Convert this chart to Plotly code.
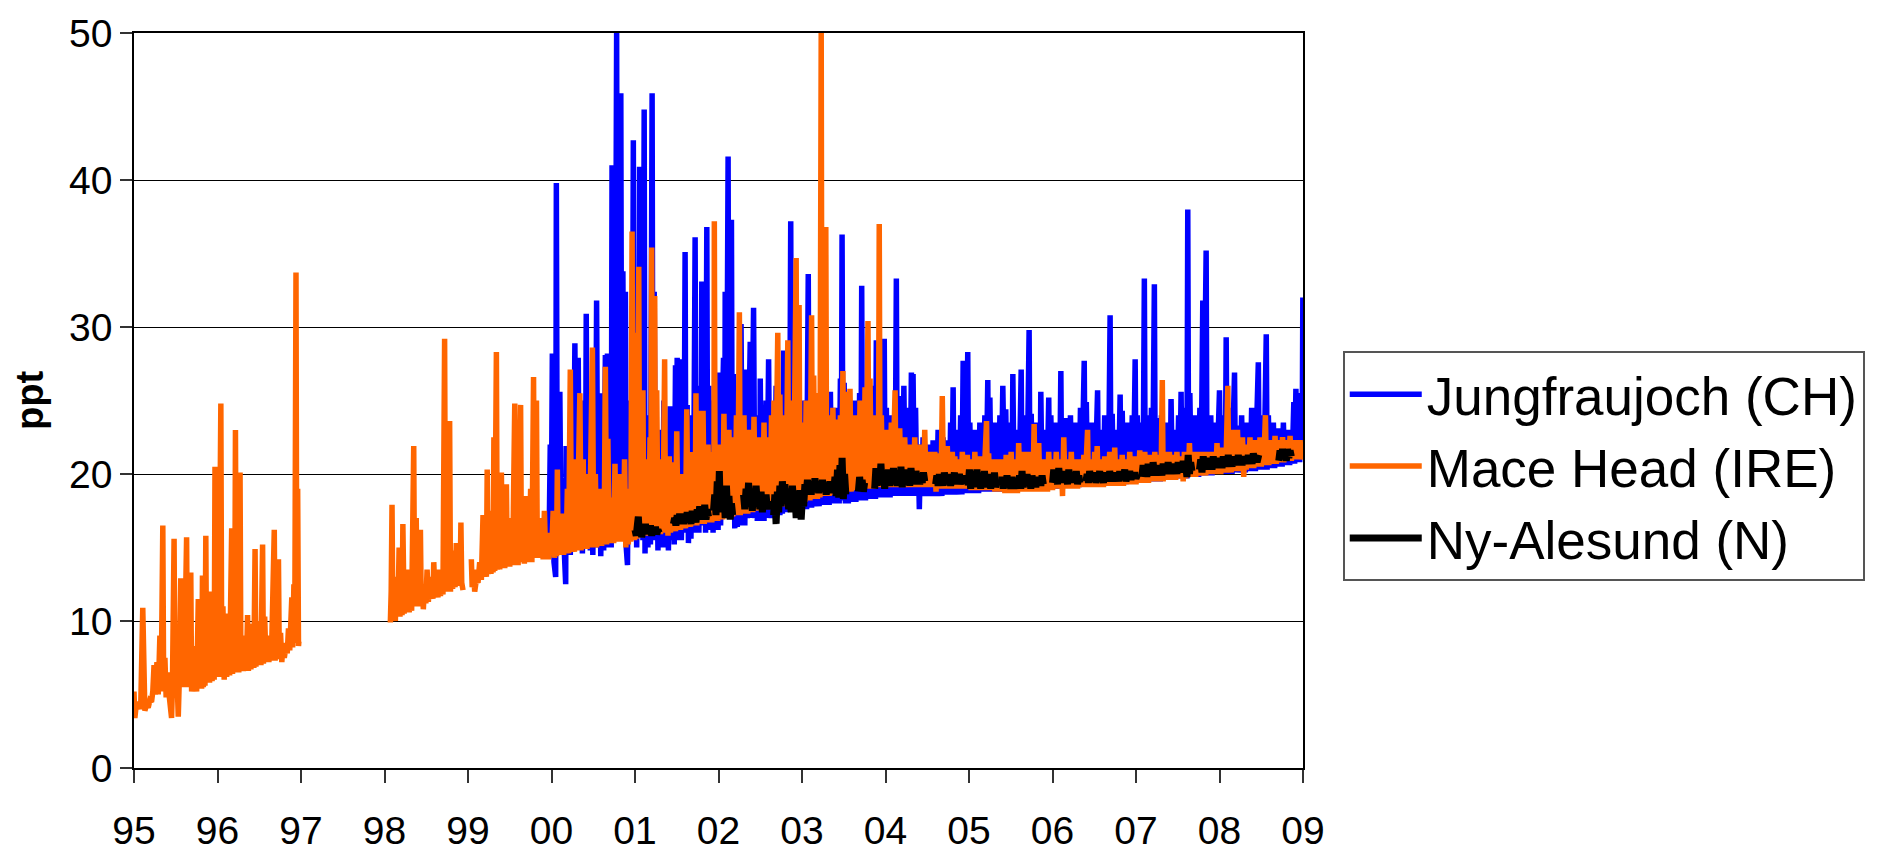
import plotly.graph_objects as go

# ---- data (year-1900, ppt); None = data gap ----
jfj = [
 (99.97, 15.0), (99.985, 22.0), (99.995, 14.5), (100.01, 28.2), (100.03, 14.0), (100.05, 13.0), (100.058, 39.8), (100.07, 15.0),
 (100.09, 18.0), (100.10, 25.6), (100.115, 14.8), (100.14, 19.0), (100.155, 14.5), (100.17, 12.5), (100.175, 21.9), (100.19, 15.0),
 (100.21, 20.5), (100.225, 14.5), (100.245, 23.0), (100.26, 15.0), (100.28, 28.9), (100.295, 15.2), (100.32, 27.9), (100.335, 15.0),
 (100.355, 22.5), (100.37, 14.6), (100.39, 25.0), (100.405, 15.0), (100.416, 30.9), (100.43, 15.2), (100.45, 24.0), (100.465, 14.8),
 (100.48, 20.0), (100.495, 14.5), (100.51, 22.0), (100.525, 15.0), (100.54, 31.8), (100.555, 15.0), (100.575, 25.5), (100.59, 14.4),
 (100.61, 22.0), (100.625, 14.8), (100.645, 28.1), (100.655, 15.0), (100.67, 28.2), (100.685, 15.5), (100.70, 24.0), (100.715, 15.0),
 (100.725, 41.0), (100.735, 18.0), (100.745, 30.0), (100.76, 16.0), (100.78, 50.0), (100.79, 20.0), (100.80, 35.0), (100.815, 17.0),
 (100.83, 45.9), (100.84, 20.0), (100.855, 33.8), (100.87, 16.0), (100.885, 32.4), (100.895, 15.0), (100.91, 13.8), (100.92, 22.0),
 (100.935, 15.5), (100.95, 25.0), (100.965, 15.5), (100.98, 42.7), (100.99, 17.0), (101.005, 28.0), (101.02, 15.0), (101.035, 24.0),
 (101.045, 16.0), (101.055, 40.9), (101.065, 17.0), (101.08, 26.0), (101.095, 15.5), (101.11, 44.8), (101.12, 14.6), (101.14, 24.0),
 (101.155, 15.0), (101.17, 22.0), (101.185, 15.2), (101.205, 45.9), (101.215, 17.0), (101.23, 32.4), (101.245, 15.5), (101.26, 21.0),
 (101.275, 14.8), (101.29, 23.0), (101.305, 15.0), (101.32, 20.0), (101.335, 15.2), (101.345, 25.0), (101.36, 15.0), (101.38, 21.5),
 (101.40, 14.8), (101.42, 24.6), (101.435, 15.5), (101.455, 20.0), (101.47, 15.2), (101.485, 27.4), (101.495, 16.0), (101.505, 27.9),
 (101.52, 15.5), (101.54, 27.8), (101.555, 15.5), (101.575, 22.0), (101.585, 16.0), (101.60, 35.1), (101.61, 16.0), (101.625, 24.7),
 (101.64, 15.3), (101.655, 21.0), (101.67, 15.6), (101.685, 24.0), (101.70, 16.0), (101.72, 36.1), (101.73, 17.0), (101.75, 26.0),
 (101.765, 16.0), (101.78, 24.0), (101.79, 16.5), (101.80, 33.1), (101.81, 17.0), (101.83, 25.0), (101.845, 16.0), (101.86, 36.8),
 (101.87, 17.5), (101.885, 26.0), (101.90, 16.2), (101.92, 23.0), (101.935, 16.0), (101.95, 25.0), (101.965, 16.2), (101.98, 22.0),
 (101.995, 16.2), (102.01, 26.9), (102.025, 16.5), (102.045, 24.0), (102.06, 27.9), (102.075, 17.0), (102.08, 32.4), (102.095, 17.5),
 (102.115, 41.6), (102.125, 18.0), (102.155, 37.3), (102.165, 17.0), (102.18, 26.8), (102.195, 16.3), (102.21, 22.0), (102.225, 16.4),
 (102.24, 25.0), (102.255, 16.5), (102.27, 30.2), (102.285, 16.6), (102.30, 23.0), (102.315, 16.5), (102.335, 27.1), (102.345, 17.0),
 (102.38, 29.0), (102.39, 17.0), (102.42, 31.3), (102.435, 17.0), (102.45, 24.0), (102.465, 16.8), (102.48, 22.0), (102.495, 16.8),
 (102.50, 26.5), (102.515, 17.0), (102.53, 23.0), (102.545, 16.8), (102.57, 25.0), (102.58, 17.0), (102.60, 27.8), (102.615, 17.0),
 (102.63, 24.0), (102.645, 17.0), (102.66, 22.0), (102.675, 17.0), (102.69, 26.0), (102.705, 17.2), (102.72, 23.5), (102.735, 17.2),
 (102.75, 25.0), (102.765, 17.3), (102.78, 28.4), (102.79, 17.5), (102.80, 24.0), (102.815, 17.4), (102.835, 26.0), (102.85, 17.5),
 (102.865, 37.2), (102.875, 18.0), (102.89, 25.0), (102.905, 17.5), (102.92, 23.0), (102.935, 17.5), (102.95, 26.0), (102.965, 17.5),
 (102.98, 24.5), (102.995, 17.5), (103.01, 25.0), (103.025, 17.6), (103.04, 22.5), (103.055, 17.6), (103.075, 33.6), (103.085, 18.0),
 (103.10, 25.8), (103.115, 17.7), (103.13, 23.0), (103.145, 17.8), (103.16, 24.5), (103.175, 17.8), (103.19, 22.0), (103.205, 17.8),
 (103.22, 25.0), (103.235, 17.9), (103.25, 23.5), (103.265, 17.9), (103.28, 26.5), (103.295, 17.9), (103.31, 24.0), (103.325, 17.9),
 (103.34, 25.6), (103.355, 18.0), (103.37, 22.5), (103.385, 18.0), (103.40, 24.5), (103.415, 18.0), (103.43, 23.0), (103.445, 18.0),
 (103.46, 26.5), (103.47, 18.2), (103.48, 36.3), (103.49, 18.5), (103.505, 26.2), (103.52, 18.0), (103.54, 23.0), (103.555, 18.0),
 (103.57, 24.5), (103.585, 18.1), (103.60, 22.5), (103.615, 18.1), (103.63, 25.0), (103.645, 18.1), (103.66, 23.5), (103.675, 18.2),
 (103.69, 25.5), (103.705, 18.2), (103.715, 32.8), (103.725, 18.5), (103.745, 24.0), (103.76, 18.2), (103.775, 22.5), (103.79, 18.3),
 (103.81, 25.0), (103.825, 18.3), (103.84, 23.0), (103.855, 18.3), (103.87, 26.0), (103.88, 18.3), (103.89, 29.1), (103.905, 18.4),
 (103.92, 24.0), (103.935, 18.4), (103.95, 25.5), (103.965, 18.4), (103.985, 29.2), (103.995, 18.4), (104.01, 24.5), (104.025, 18.4),
 (104.04, 23.0), (104.055, 18.4), (104.07, 24.0), (104.085, 18.5), (104.10, 22.5), (104.115, 18.5), (104.13, 33.3), (104.14, 18.6),
 (104.16, 25.3), (104.175, 18.5), (104.19, 23.0), (104.205, 18.5), (104.22, 26.0), (104.235, 18.5), (104.25, 23.5), (104.265, 18.5),
 (104.28, 24.5), (104.295, 18.5), (104.31, 26.9), (104.32, 18.6), (104.33, 26.8), (104.345, 18.5), (104.36, 24.5), (104.375, 18.5),
 (104.39, 22.0), (104.405, 17.6), (104.42, 21.5), (104.435, 18.5), (104.45, 22.5), (104.465, 18.5), (104.48, 21.5), (104.495, 18.5),
 (104.51, 22.0), (104.525, 18.5), (104.54, 21.0), (104.555, 18.5), (104.57, 22.3), (104.585, 18.5), (104.60, 21.5), (104.615, 18.5),
 (104.63, 23.0), (104.645, 18.5), (104.66, 21.5), (104.675, 18.5), (104.69, 22.5), (104.705, 18.6), (104.72, 21.5), (104.735, 18.6),
 (104.75, 22.3), (104.765, 18.6), (104.78, 23.5), (104.795, 18.6), (104.81, 25.9), (104.82, 18.7), (104.84, 23.0), (104.855, 18.6),
 (104.87, 22.0), (104.885, 18.6), (104.90, 24.0), (104.915, 18.6), (104.93, 27.7), (104.94, 18.8), (104.955, 23.5), (104.965, 18.7),
 (104.985, 28.3), (104.995, 18.7), (105.01, 23.5), (105.025, 18.7), (105.04, 21.9), (105.055, 18.7), (105.07, 23.0), (105.085, 18.7),
 (105.10, 22.0), (105.115, 18.7), (105.13, 23.5), (105.145, 18.8), (105.16, 22.0), (105.175, 18.8), (105.19, 24.0), (105.205, 18.8),
 (105.225, 26.4), (105.235, 18.8), (105.25, 25.2), (105.265, 18.8), (105.28, 22.5), (105.295, 18.8), (105.31, 23.5), (105.325, 18.8),
 (105.34, 22.0), (105.355, 18.8), (105.37, 24.0), (105.385, 18.8), (105.405, 26.0), (105.425, 18.8), (105.44, 24.4), (105.455, 18.8),
 (105.47, 22.5), (105.485, 18.9), (105.50, 23.5), (105.515, 18.9), (105.525, 26.8), (105.54, 18.9), (105.555, 23.0), (105.57, 18.9),
 (105.585, 22.0), (105.60, 18.9), (105.625, 27.1), (105.635, 18.9), (105.65, 24.0), (105.665, 18.9), (105.68, 22.5), (105.695, 19.0),
 (105.72, 29.8), (105.73, 19.0), (105.745, 24.1), (105.76, 19.0), (105.775, 22.5), (105.79, 19.0), (105.805, 23.5), (105.82, 19.0),
 (105.835, 22.0), (105.85, 19.0), (105.86, 25.6), (105.875, 19.0), (105.89, 23.0), (105.905, 19.0), (105.92, 22.0), (105.935, 19.0),
 (105.955, 25.2), (105.965, 19.0), (105.98, 24.0), (105.995, 19.0), (106.01, 22.5), (106.025, 19.0), (106.04, 23.5), (106.055, 19.0),
 (106.07, 22.0), (106.085, 19.1), (106.10, 27.0), (106.11, 19.1), (106.125, 23.0), (106.14, 19.1), (106.155, 23.8), (106.17, 19.1),
 (106.185, 22.6), (106.20, 19.1), (106.215, 24.0), (106.23, 19.1), (106.245, 22.5), (106.26, 19.1), (106.275, 23.5), (106.29, 19.1),
 (106.305, 22.0), (106.32, 19.1), (106.335, 24.5), (106.35, 19.2), (106.365, 23.0), (106.38, 27.7), (106.39, 19.2), (106.405, 24.9),
 (106.42, 19.2), (106.435, 22.5), (106.45, 19.2), (106.465, 23.5), (106.48, 19.2), (106.495, 22.0), (106.51, 19.2), (106.525, 24.0),
 (106.54, 25.7), (106.55, 19.2), (106.565, 23.0), (106.58, 19.2), (106.595, 22.5), (106.61, 19.2), (106.625, 24.0), (106.64, 19.2),
 (106.655, 22.5), (106.67, 19.3), (106.69, 30.8), (106.70, 19.3), (106.715, 24.1), (106.73, 19.3), (106.745, 23.0), (106.76, 19.3),
 (106.775, 22.5), (106.79, 19.3), (106.81, 25.4), (106.82, 19.3), (106.835, 24.3), (106.85, 19.3), (106.865, 22.5), (106.88, 19.3),
 (106.895, 23.5), (106.91, 19.4), (106.925, 22.0), (106.94, 19.4), (106.955, 24.0), (106.97, 19.4), (106.99, 27.8), (107.0, 19.4),
 (107.015, 24.0), (107.03, 19.4), (107.045, 22.5), (107.06, 19.4), (107.075, 23.5), (107.085, 19.4), (107.10, 33.3), (107.11, 19.5),
 (107.125, 24.0), (107.14, 19.5), (107.155, 22.5), (107.17, 19.5), (107.185, 24.5), (107.20, 19.5), (107.215, 28.6), (107.22, 32.9),
 (107.23, 19.5), (107.245, 23.8), (107.26, 19.5), (107.275, 22.5), (107.29, 19.5), (107.305, 24.0), (107.32, 19.6), (107.335, 22.5),
 (107.35, 19.6), (107.365, 23.5), (107.38, 19.6), (107.395, 22.0), (107.41, 19.6), (107.42, 25.1), (107.435, 19.6), (107.45, 23.0),
 (107.465, 19.6), (107.48, 22.5), (107.495, 19.7), (107.51, 24.0), (107.525, 19.7), (107.54, 25.6), (107.55, 19.7), (107.565, 23.0),
 (107.58, 19.7), (107.595, 24.5), (107.61, 19.7), (107.62, 38.0), (107.63, 19.8), (107.645, 25.5), (107.66, 19.8), (107.675, 23.0),
 (107.69, 19.8), (107.705, 24.0), (107.72, 19.8), (107.735, 22.5), (107.75, 19.8), (107.765, 24.5), (107.78, 19.9), (107.80, 31.8),
 (107.81, 19.9), (107.825, 26.0), (107.84, 35.2), (107.85, 19.9), (107.865, 23.2), (107.88, 19.9), (107.895, 24.0), (107.91, 19.9),
 (107.925, 22.5), (107.94, 20.0), (107.955, 23.5), (107.97, 20.0), (107.985, 22.0), (108.0, 25.7), (108.01, 20.0), (108.025, 23.0),
 (108.04, 20.0), (108.055, 24.0), (108.07, 20.0), (108.08, 29.3), (108.09, 20.0), (108.105, 23.5), (108.12, 20.0), (108.135, 24.5),
 (108.15, 20.0), (108.165, 23.0), (108.18, 26.9), (108.19, 20.1), (108.205, 23.3), (108.22, 20.1), (108.235, 22.5), (108.25, 20.1),
 (108.265, 24.0), (108.28, 20.1), (108.295, 22.5), (108.31, 20.1), (108.325, 23.5), (108.34, 20.2), (108.355, 22.0), (108.37, 20.2),
 (108.385, 24.5), (108.40, 20.2), (108.415, 22.5), (108.43, 20.2), (108.445, 24.0), (108.465, 27.6), (108.475, 20.3), (108.49, 23.5),
 (108.505, 20.3), (108.52, 24.0), (108.535, 20.3), (108.56, 29.5), (108.57, 20.3), (108.585, 24.0), (108.60, 20.4), (108.615, 22.5),
 (108.63, 20.4), (108.645, 23.5), (108.66, 20.4), (108.675, 22.0), (108.69, 20.5), (108.705, 23.1), (108.72, 20.5), (108.735, 22.5),
 (108.75, 20.5), (108.765, 23.5), (108.78, 20.6), (108.795, 22.5), (108.81, 20.6), (108.825, 23.0), (108.84, 20.6), (108.855, 22.0),
 (108.87, 20.7), (108.89, 24.9), (108.90, 20.7), (108.915, 25.8), (108.93, 20.8), (108.945, 23.0), (108.96, 20.8), (108.975, 25.5),
 (108.99, 21.5), (108.998, 32.0), (109.0, 22.0),
]

mace = [
 (95.0, 5.2), (95.01, 3.4), (95.025, 4.2), (95.04, 4.0), (95.06, 4.5), (95.08, 4.0), (95.105, 10.9), (95.115, 4.2), (95.13, 3.9),
 (95.15, 4.3), (95.17, 4.1), (95.19, 4.6), (95.21, 4.5), (95.225, 5.2), (95.24, 7.0), (95.255, 5.0), (95.275, 7.2), (95.29, 5.0),
 (95.31, 9.0), (95.325, 5.2), (95.345, 16.5), (95.355, 5.5), (95.37, 7.5), (95.385, 4.8), (95.40, 6.5), (95.42, 5.0), (95.45, 3.4),
 (95.46, 5.5), (95.48, 15.6), (95.49, 5.0), (95.505, 8.0), (95.53, 3.5), (95.54, 5.5), (95.56, 12.9), (95.57, 5.5), (95.585, 9.0),
 (95.60, 5.5), (95.63, 15.7), (95.64, 5.5), (95.68, 13.3), (95.69, 5.2), (95.705, 7.0), (95.72, 5.2), (95.735, 8.3), (95.75, 5.2),
 (95.77, 11.5), (95.78, 5.5), (95.80, 8.0), (95.81, 5.4), (95.82, 13.1), (95.83, 5.5), (95.845, 7.0), (95.85, 5.6), (95.86, 15.8),
 (95.87, 5.8), (95.89, 8.5), (95.905, 5.8), (95.92, 12.0), (95.935, 5.9), (95.95, 9.0), (95.96, 6.0), (95.97, 20.5), (95.98, 6.2),
 (96.00, 10.0), (96.015, 6.2), (96.04, 24.8), (96.05, 8.0), (96.065, 11.0), (96.08, 6.0), (96.095, 10.5), (96.11, 6.2), (96.13, 9.5),
 (96.145, 6.3), (96.17, 16.3), (96.18, 6.4), (96.195, 11.5), (96.205, 6.5), (96.215, 23.0), (96.225, 7.0), (96.245, 12.0),
 (96.255, 6.5), (96.27, 20.1), (96.28, 6.8), (96.295, 9.0), (96.31, 6.6), (96.33, 8.5), (96.345, 6.6), (96.36, 10.4), (96.37, 6.6),
 (96.385, 8.8), (96.40, 6.7), (96.42, 9.8), (96.435, 6.8), (96.45, 14.9), (96.46, 6.9), (96.475, 8.5), (96.49, 7.0), (96.505, 10.0),
 (96.52, 7.0), (96.54, 15.2), (96.55, 7.1), (96.565, 10.3), (96.58, 7.2), (96.60, 9.0), (96.615, 7.2), (96.63, 8.7), (96.645, 7.3),
 (96.68, 16.2), (96.69, 7.3), (96.73, 14.2), (96.74, 7.4), (96.755, 9.2), (96.77, 7.2), (96.785, 8.5), (96.80, 7.5), (96.82, 8.3),
 (96.835, 7.8), (96.85, 9.5), (96.865, 8.0), (96.89, 11.6), (96.90, 8.2), (96.915, 12.5), (96.925, 8.5), (96.94, 33.7),
 (96.95, 9.0), (96.96, 19.0), (96.97, 8.3), (96.975, 8.6),
 (97.5, None),
 (98.07, 9.9), (98.08, 12.0), (98.09, 17.9), (98.10, 10.2), (98.115, 11.5), (98.13, 10.0), (98.145, 13.0), (98.16, 10.3),
 (98.175, 15.0), (98.185, 10.3), (98.20, 12.5), (98.21, 10.4), (98.22, 16.6), (98.235, 10.5), (98.25, 12.0), (98.265, 10.6),
 (98.28, 13.5), (98.295, 10.6), (98.31, 11.5), (98.325, 10.7), (98.35, 21.9), (98.36, 11.0), (98.38, 17.0), (98.39, 11.0),
 (98.43, 16.2), (98.44, 11.0), (98.455, 12.5), (98.465, 10.8), (98.48, 12.5), (98.495, 11.2), (98.51, 13.5), (98.525, 11.3),
 (98.54, 12.8), (98.555, 11.5), (98.57, 13.0), (98.58, 11.5), (98.59, 14.0), (98.605, 11.6), (98.625, 12.8), (98.64, 11.6),
 (98.655, 13.5), (98.67, 11.7), (98.685, 12.5), (98.70, 11.8), (98.72, 29.2), (98.73, 12.5), (98.755, 14.5), (98.765, 12.0),
 (98.78, 23.6), (98.79, 12.0), (98.80, 14.8), (98.815, 12.2), (98.83, 13.0), (98.845, 12.3), (98.86, 15.3), (98.875, 12.4),
 (98.89, 13.0), (98.905, 12.5), (98.915, 16.7), (98.925, 12.6), (98.94, 12.1),
 (99.0, None),
 (99.04, 14.2), (99.05, 12.3), (99.07, 13.5), (99.08, 12.0), (99.10, 12.8), (99.12, 12.6), (99.14, 14.0), (99.16, 12.8),
 (99.18, 17.2), (99.19, 13.0), (99.21, 15.5), (99.22, 13.0), (99.23, 20.3), (99.24, 13.2), (99.26, 15.0), (99.275, 13.2),
 (99.29, 17.5), (99.30, 13.3), (99.31, 22.5), (99.32, 13.4), (99.34, 28.3), (99.35, 13.5), (99.37, 16.0), (99.38, 13.5),
 (99.40, 20.1), (99.41, 13.6), (99.43, 16.5), (99.44, 13.6), (99.46, 19.3), (99.47, 13.7), (99.49, 15.0), (99.50, 13.7),
 (99.52, 17.0), (99.535, 13.8), (99.56, 24.8), (99.57, 14.0), (99.59, 18.0), (99.60, 13.8), (99.63, 24.7), (99.64, 14.0),
 (99.66, 16.5), (99.675, 13.9), (99.69, 18.5), (99.70, 14.0), (99.715, 16.8), (99.735, 14.0), (99.75, 19.0), (99.765, 14.0),
 (99.785, 26.6), (99.795, 14.3), (99.82, 25.0), (99.83, 14.3), (99.855, 17.0), (99.87, 14.3), (99.885, 16.0), (99.90, 14.2),
 (99.915, 17.5), (99.93, 14.3), (99.95, 16.0), (99.965, 14.2), (99.98, 15.5),
 (100.0, 14.5), (100.02, 17.5), (100.035, 14.3), (100.05, 16.0), (100.06, 14.4), (100.07, 20.3), (100.08, 14.5), (100.10, 17.0),
 (100.11, 14.5), (100.13, 17.3), (100.145, 14.5), (100.16, 16.5), (100.175, 14.6), (100.19, 19.0), (100.205, 14.6), (100.225, 27.1),
 (100.24, 14.7), (100.26, 18.5), (100.275, 14.7), (100.29, 21.0), (100.305, 14.8), (100.34, 25.5), (100.355, 14.8), (100.38, 21.0),
 (100.39, 14.9), (100.41, 18.0), (100.425, 14.9), (100.44, 20.0), (100.455, 15.0), (100.49, 28.6), (100.505, 15.0), (100.525, 20.0),
 (100.54, 15.0), (100.555, 18.5), (100.57, 15.1), (100.585, 19.0), (100.60, 15.1), (100.615, 18.0), (100.63, 15.2), (100.645, 27.3),
 (100.66, 15.2), (100.675, 22.4), (100.69, 15.3), (100.70, 18.4), (100.715, 15.3), (100.73, 18.1), (100.745, 15.3), (100.76, 20.7),
 (100.775, 15.4), (100.79, 19.0), (100.80, 15.4), (100.815, 20.0), (100.83, 15.4), (100.845, 18.0), (100.86, 15.5), (100.875, 21.0),
 (100.89, 15.0), (100.905, 17.5), (100.92, 15.2), (100.935, 19.0), (100.95, 15.4), (100.965, 36.5), (100.975, 15.6), (100.985, 29.6),
 (100.995, 15.5), (101.01, 20.0), (101.02, 15.6), (101.045, 34.1), (101.055, 15.7), (101.07, 22.5), (101.08, 15.7), (101.095, 25.7),
 (101.105, 15.8), (101.12, 19.0), (101.135, 15.8), (101.15, 21.0), (101.165, 15.8), (101.18, 22.5), (101.19, 15.9), (101.20, 35.4),
 (101.21, 16.0), (101.236, 32.1), (101.245, 16.0), (101.26, 25.7), (101.275, 15.9), (101.29, 19.5), (101.305, 15.9), (101.32, 21.0),
 (101.335, 16.0), (101.355, 27.8), (101.365, 16.0), (101.38, 19.5), (101.395, 15.8), (101.41, 21.2), (101.425, 16.0), (101.44, 20.8),
 (101.455, 16.1), (101.47, 19.0), (101.485, 16.1), (101.50, 22.9), (101.515, 16.2), (101.53, 18.5), (101.545, 16.2), (101.56, 20.0),
 (101.575, 16.3), (101.59, 19.3), (101.605, 16.3), (101.62, 24.4), (101.635, 16.4), (101.65, 20.0), (101.665, 16.4), (101.68, 21.5),
 (101.695, 16.5), (101.71, 19.5), (101.72, 16.5), (101.73, 25.5), (101.74, 16.5), (101.76, 24.3), (101.775, 16.6), (101.79, 21.0),
 (101.80, 16.6), (101.815, 24.3), (101.83, 16.6), (101.845, 20.5), (101.86, 16.7), (101.875, 22.0), (101.89, 16.7), (101.905, 20.0),
 (101.92, 16.7), (101.935, 21.5), (101.945, 16.8), (101.95, 37.2), (101.96, 16.8), (101.975, 22.0), (101.99, 16.8),
 (102.005, 20.5), (102.02, 16.9), (102.035, 22.0), (102.05, 16.9), (102.065, 24.1), (102.08, 17.0), (102.095, 21.0), (102.11, 17.0),
 (102.125, 23.0), (102.14, 17.1), (102.155, 20.0), (102.17, 17.1), (102.185, 22.5), (102.20, 17.2), (102.215, 24.0), (102.23, 17.2),
 (102.25, 31.0), (102.26, 17.2), (102.275, 22.0), (102.29, 17.3), (102.305, 24.0), (102.32, 17.3), (102.335, 21.5), (102.35, 17.3),
 (102.365, 23.0), (102.38, 17.4), (102.395, 21.0), (102.41, 17.4), (102.425, 23.9), (102.44, 17.5), (102.455, 21.5), (102.47, 17.5),
 (102.485, 22.5), (102.50, 17.5), (102.515, 20.5), (102.53, 17.6), (102.545, 23.5), (102.56, 17.6), (102.575, 21.5), (102.59, 17.6),
 (102.605, 22.5), (102.62, 17.7), (102.635, 24.0), (102.65, 17.7), (102.665, 25.0), (102.68, 17.7), (102.695, 23.0), (102.71, 29.6),
 (102.72, 17.8), (102.735, 25.4), (102.75, 17.8), (102.765, 22.0), (102.78, 17.8), (102.795, 24.0), (102.81, 17.9), (102.83, 29.1),
 (102.84, 17.9), (102.855, 23.0), (102.87, 17.9), (102.885, 25.0), (102.90, 18.0), (102.915, 27.0), (102.93, 34.7), (102.94, 18.0),
 (102.955, 31.4), (102.965, 31.5), (102.975, 18.0), (102.99, 22.8), (103.005, 18.1), (103.02, 23.5), (103.035, 18.1), (103.05, 25.0),
 (103.065, 18.2), (103.08, 24.0), (103.095, 18.2), (103.115, 30.8), (103.125, 18.3), (103.14, 26.7), (103.155, 18.3), (103.17, 23.0),
 (103.185, 18.3), (103.20, 25.5), (103.215, 18.4), (103.23, 50.0), (103.24, 18.5), (103.26, 26.0), (103.275, 18.5), (103.285, 36.8),
 (103.295, 18.5), (103.31, 24.0), (103.325, 18.5), (103.34, 22.5), (103.355, 18.6), (103.37, 24.5), (103.385, 18.6), (103.40, 23.7),
 (103.415, 18.6), (103.43, 22.5), (103.445, 18.7), (103.46, 24.0), (103.475, 18.7), (103.49, 27.0), (103.50, 18.7), (103.515, 25.6),
 (103.53, 18.8), (103.545, 23.2), (103.56, 18.8), (103.575, 25.8), (103.59, 18.8), (103.605, 22.5), (103.62, 18.9), (103.635, 24.0),
 (103.65, 18.9), (103.665, 22.0), (103.68, 18.9), (103.695, 25.0), (103.71, 19.0), (103.725, 23.0), (103.74, 19.0), (103.755, 25.9),
 (103.77, 19.0), (103.79, 30.4), (103.80, 19.0), (103.815, 26.5), (103.83, 19.0), (103.845, 22.5), (103.86, 19.0), (103.875, 24.0),
 (103.89, 19.1), (103.905, 22.3), (103.915, 19.1), (103.925, 37.0), (103.935, 19.1), (103.95, 24.0), (103.965, 19.1), (103.98, 22.5),
 (103.995, 19.1), (104.01, 23.0), (104.025, 19.1), (104.04, 22.0), (104.055, 19.1), (104.07, 23.5), (104.085, 19.1), (104.10, 22.0),
 (104.115, 25.7), (104.125, 19.1), (104.14, 22.5), (104.155, 19.1), (104.17, 23.1), (104.185, 19.1), (104.20, 21.5), (104.215, 19.1),
 (104.23, 22.5), (104.245, 19.1), (104.26, 21.0), (104.275, 19.1), (104.29, 22.0), (104.305, 19.1), (104.32, 21.5), (104.335, 19.1),
 (104.35, 22.5), (104.365, 19.1), (104.38, 21.0), (104.395, 19.1), (104.41, 22.0), (104.425, 19.1), (104.44, 21.5), (104.455, 19.1),
 (104.47, 23.0), (104.485, 19.1), (104.50, 21.0), (104.515, 19.1), (104.53, 21.5), (104.545, 19.1), (104.56, 21.0), (104.575, 19.1),
 (104.59, 21.5), (104.605, 18.8), (104.62, 21.4), (104.635, 19.0), (104.65, 20.8), (104.665, 19.0), (104.68, 25.3), (104.695, 19.0),
 (104.71, 21.0), (104.725, 19.0), (104.74, 21.9), (104.755, 19.0), (104.77, 20.8), (104.785, 19.0), (104.80, 21.5), (104.815, 19.0),
 (104.83, 21.2), (104.845, 19.0), (104.86, 20.8), (104.875, 19.0), (104.89, 21.0), (104.905, 19.0), (104.92, 21.5), (104.935, 19.0),
 (104.95, 20.8), (104.965, 19.0), (104.98, 21.3), (104.995, 19.0), (105.01, 21.0), (105.025, 18.9), (105.04, 20.8), (105.055, 18.9),
 (105.07, 21.5), (105.085, 18.9), (105.10, 20.5), (105.115, 18.9), (105.13, 21.2), (105.145, 18.9), (105.16, 20.8), (105.175, 18.9),
 (105.19, 21.0), (105.21, 23.6), (105.22, 18.9), (105.235, 21.4), (105.25, 18.9), (105.265, 21.0), (105.28, 18.9), (105.295, 20.5),
 (105.31, 18.8), (105.325, 21.0), (105.34, 18.8), (105.355, 20.5), (105.37, 18.8), (105.385, 21.0), (105.40, 18.8), (105.415, 20.5),
 (105.43, 18.7), (105.445, 21.3), (105.46, 18.7), (105.475, 20.8), (105.49, 18.7), (105.505, 21.5), (105.52, 18.7), (105.535, 20.8),
 (105.55, 18.7), (105.565, 21.0), (105.58, 18.7), (105.595, 22.1), (105.61, 18.8), (105.625, 20.8), (105.64, 18.8), (105.655, 21.5),
 (105.67, 18.8), (105.685, 21.0), (105.70, 18.8), (105.72, 21.5), (105.735, 18.8), (105.75, 21.0), (105.765, 18.8), (105.78, 23.4),
 (105.79, 18.8), (105.805, 21.5), (105.82, 18.8), (105.835, 22.1), (105.85, 18.8), (105.865, 20.8), (105.88, 18.8), (105.895, 21.0),
 (105.91, 18.8), (105.925, 20.5), (105.94, 18.8), (105.955, 21.5), (105.97, 18.9), (105.985, 21.0), (106.0, 18.9), (106.015, 20.8),
 (106.03, 19.0), (106.045, 21.5), (106.06, 19.0), (106.075, 20.8), (106.09, 19.0), (106.105, 21.0), (106.12, 18.5), (106.135, 22.5),
 (106.15, 19.0), (106.165, 21.0), (106.18, 19.0), (106.195, 20.8), (106.21, 19.0), (106.225, 21.5), (106.24, 19.0), (106.255, 21.0),
 (106.27, 19.0), (106.285, 20.5), (106.30, 19.0), (106.315, 21.0), (106.33, 19.1), (106.345, 20.8), (106.36, 19.1), (106.375, 21.3),
 (106.39, 19.1), (106.405, 21.0), (106.42, 23.0), (106.43, 19.1), (106.445, 21.0), (106.46, 19.1), (106.475, 20.8), (106.49, 19.1),
 (106.505, 21.5), (106.52, 19.1), (106.535, 21.9), (106.55, 19.1), (106.565, 21.0), (106.58, 19.1), (106.595, 20.8), (106.61, 19.1),
 (106.625, 21.2), (106.64, 19.2), (106.655, 21.0), (106.67, 19.2), (106.685, 21.5), (106.70, 19.2), (106.715, 20.8), (106.73, 19.2),
 (106.745, 21.8), (106.76, 19.2), (106.775, 21.0), (106.79, 19.2), (106.805, 20.8), (106.82, 19.2), (106.835, 21.3), (106.85, 19.2),
 (106.865, 21.0), (106.88, 19.3), (106.895, 20.8), (106.91, 19.3), (106.925, 21.5), (106.94, 19.3), (106.955, 21.0), (106.97, 19.3),
 (106.985, 21.2), (107.0, 19.3), (107.015, 21.0), (107.03, 19.4), (107.045, 21.6), (107.06, 19.4), (107.075, 20.8), (107.09, 19.4),
 (107.105, 21.5), (107.12, 19.4), (107.135, 21.0), (107.15, 19.4), (107.165, 21.3), (107.18, 19.5), (107.195, 21.0), (107.21, 19.5),
 (107.225, 21.5), (107.24, 19.5), (107.255, 21.0), (107.27, 19.5), (107.285, 21.3), (107.30, 19.5), (107.315, 26.4), (107.325, 19.5),
 (107.34, 21.5), (107.355, 19.6), (107.37, 21.0), (107.385, 19.6), (107.40, 21.5), (107.415, 19.6), (107.43, 21.0), (107.445, 19.6),
 (107.46, 21.3), (107.475, 19.6), (107.49, 21.5), (107.505, 19.7), (107.52, 21.0), (107.535, 19.7), (107.55, 21.2), (107.565, 19.5),
 (107.58, 21.5), (107.595, 19.7), (107.61, 21.0), (107.625, 19.8), (107.64, 22.1), (107.655, 19.8), (107.67, 21.5), (107.685, 19.8),
 (107.70, 21.2), (107.715, 19.8), (107.73, 21.5), (107.745, 19.9), (107.76, 21.0), (107.775, 19.9), (107.79, 21.5), (107.805, 19.9),
 (107.82, 21.2), (107.835, 19.9), (107.85, 21.5), (107.865, 20.0), (107.88, 21.2), (107.895, 20.0), (107.91, 21.5), (107.925, 20.0),
 (107.94, 21.3), (107.955, 20.0), (107.97, 22.1), (107.985, 20.0), (108.0, 21.5), (108.015, 20.0), (108.03, 21.8), (108.045, 20.1),
 (108.06, 21.5), (108.075, 20.1), (108.10, 26.0), (108.11, 20.1), (108.125, 22.0), (108.14, 20.1), (108.155, 23.0), (108.17, 20.2),
 (108.185, 21.5), (108.20, 20.2), (108.215, 23.0), (108.23, 20.2), (108.245, 22.0), (108.26, 20.3), (108.275, 22.5), (108.29, 19.8),
 (108.305, 22.0), (108.32, 20.3), (108.335, 21.8), (108.35, 20.4), (108.365, 22.5), (108.38, 20.4), (108.395, 22.0), (108.41, 20.4),
 (108.425, 22.3), (108.44, 20.5), (108.455, 22.0), (108.47, 20.5), (108.485, 22.5), (108.50, 20.5), (108.515, 22.0), (108.53, 20.6),
 (108.55, 24.0), (108.56, 20.6), (108.575, 22.3), (108.59, 20.6), (108.605, 22.0), (108.62, 20.7), (108.635, 22.3), (108.65, 20.7),
 (108.665, 22.6), (108.68, 20.7), (108.695, 22.0), (108.71, 20.8), (108.725, 22.3), (108.74, 20.8), (108.755, 22.5), (108.77, 20.8),
 (108.785, 22.0), (108.80, 20.9), (108.815, 22.3), (108.83, 20.9), (108.845, 22.6), (108.86, 20.9), (108.875, 22.0), (108.89, 21.0),
 (108.905, 22.3), (108.92, 21.0), (108.935, 22.0), (108.95, 21.0), (108.965, 22.3), (108.98, 21.0), (109.0, 21.5),
]

nyal = [
 (101.0, 16.2), (101.015, 15.8), (101.03, 16.6), (101.04, 17.1), (101.05, 16.0), (101.065, 16.5), (101.08, 15.7), (101.095, 16.3),
 (101.11, 16.0), (101.125, 16.6), (101.14, 15.9), (101.155, 16.4), (101.17, 16.0), (101.185, 16.5), (101.20, 15.8), (101.215, 16.3),
 (101.23, 16.0), (101.245, 16.4), (101.26, 15.9), (101.275, 16.2), (101.29, 16.0), (101.37, None),
 (101.46, 16.6), (101.475, 17.0), (101.49, 16.5), (101.505, 17.2), (101.52, 16.6), (101.535, 17.3), (101.55, 16.7), (101.565, 17.1),
 (101.58, 16.6), (101.595, 17.3), (101.61, 16.8), (101.625, 17.4), (101.64, 16.7), (101.655, 17.2), (101.67, 16.6), (101.685, 17.5),
 (101.70, 16.9), (101.715, 17.3), (101.73, 16.7), (101.745, 17.6), (101.76, 17.0), (101.775, 17.8), (101.79, 16.9), (101.805, 17.5),
 (101.82, 17.0), (101.835, 17.9), (101.85, 16.9), (101.865, 17.6), (101.88, 17.1), (101.91, None),
 (101.94, 17.5), (101.955, 18.6), (101.97, 17.2), (101.985, 19.5), (102.0, 18.0), (102.01, 20.2), (102.02, 17.8), (102.035, 19.0),
 (102.05, 17.4), (102.065, 18.8), (102.08, 17.0), (102.095, 19.2), (102.11, 17.3), (102.125, 18.5), (102.14, 16.9), (102.155, 18.0),
 (102.17, 17.2), (102.23, None),
 (102.30, 18.6), (102.315, 17.6), (102.33, 19.0), (102.345, 18.0), (102.36, 19.4), (102.375, 17.8), (102.39, 18.7), (102.405, 17.5),
 (102.42, 18.9), (102.435, 17.9), (102.45, 19.2), (102.465, 18.0), (102.48, 18.5), (102.495, 17.6), (102.51, 18.8), (102.525, 17.4),
 (102.54, 18.3), (102.555, 17.8), (102.57, 18.6), (102.585, 17.6), (102.60, 18.2), (102.63, None),
 (102.66, 17.2), (102.675, 18.6), (102.69, 16.6), (102.705, 18.8), (102.72, 17.4), (102.735, 19.2), (102.75, 17.8), (102.765, 19.5),
 (102.78, 18.2), (102.795, 19.3), (102.81, 18.0), (102.825, 19.0), (102.84, 17.6), (102.855, 18.8), (102.87, 17.4), (102.885, 19.2),
 (102.90, 18.1), (102.915, 18.7), (102.93, 17.0), (102.945, 18.5), (102.96, 17.2), (102.975, 18.9), (102.99, 16.9), (103.005, 18.4),
 (103.02, 17.8), (103.035, 19.3), (103.05, 18.7), (103.065, 19.6), (103.08, 18.9), (103.095, 19.5), (103.11, 18.6), (103.125, 19.4),
 (103.14, 18.8), (103.155, 19.7), (103.17, 18.9), (103.185, 19.3), (103.20, 18.7), (103.215, 19.5), (103.23, 18.8), (103.245, 19.6),
 (103.26, 18.9), (103.275, 19.4), (103.29, 18.6), (103.305, 19.2), (103.32, 18.8), (103.335, 19.5), (103.35, 18.7), (103.365, 19.3),
 (103.38, 18.9), (103.395, 19.8), (103.41, 18.5), (103.425, 20.3), (103.44, 18.4), (103.455, 20.6), (103.47, 18.7), (103.48, 21.1),
 (103.495, 18.3), (103.51, 20.0), (103.525, 18.6), (103.6, None),
 (103.675, 18.8), (103.69, 19.8), (103.705, 18.9), (103.72, 19.6), (103.735, 18.8), (103.75, 19.4), (103.8, None),
 (103.87, 19.0), (103.885, 20.4), (103.90, 19.2), (103.915, 20.2), (103.93, 19.4), (103.945, 20.7), (103.96, 19.3), (103.975, 20.1),
 (103.99, 19.0), (104.005, 20.0), (104.02, 19.4), (104.035, 20.3), (104.05, 19.2), (104.065, 20.0), (104.08, 19.5), (104.095, 20.4),
 (104.11, 19.3), (104.125, 20.0), (104.14, 19.2), (104.155, 20.2), (104.17, 19.4), (104.185, 20.5), (104.20, 19.1), (104.215, 19.9),
 (104.23, 19.3), (104.245, 20.3), (104.26, 19.5), (104.275, 20.1), (104.29, 19.2), (104.305, 20.4), (104.32, 19.5), (104.335, 20.0),
 (104.35, 19.3), (104.365, 20.2), (104.38, 19.6), (104.395, 20.0), (104.41, 19.3), (104.425, 19.9), (104.44, 19.4), (104.455, 20.1),
 (104.47, 19.5), (104.53, None),
 (104.60, 19.3), (104.615, 19.9), (104.63, 19.2), (104.645, 20.0), (104.66, 19.4), (104.675, 19.8), (104.69, 19.2), (104.705, 20.1),
 (104.72, 19.4), (104.735, 19.9), (104.75, 19.3), (104.765, 20.0), (104.78, 19.2), (104.795, 19.8), (104.81, 19.4), (104.825, 20.1),
 (104.84, 19.3), (104.855, 19.9), (104.87, 19.5), (104.885, 20.0), (104.90, 19.3), (104.915, 19.8), (104.93, 19.4), (104.945, 19.9),
 (104.96, 19.3), (104.975, None),
 (104.99, 19.2), (105.005, 20.3), (105.02, 19.0), (105.035, 20.2), (105.05, 19.3), (105.065, 20.0), (105.08, 19.1), (105.095, 20.3),
 (105.11, 19.2), (105.125, 19.9), (105.14, 19.0), (105.155, 20.1), (105.17, 19.3), (105.185, 20.2), (105.20, 19.1), (105.215, 19.8),
 (105.23, 19.2), (105.245, 20.0), (105.26, 19.0), (105.275, 19.9), (105.29, 19.3), (105.305, 20.1), (105.32, 19.1), (105.34, 19.6),
 (105.36, None),
 (105.38, 19.2), (105.395, 19.8), (105.41, 19.0), (105.425, 19.7), (105.44, 19.1), (105.455, 19.9), (105.47, 19.2), (105.485, 19.6),
 (105.50, 19.0), (105.515, 19.8), (105.53, 19.1), (105.545, 19.5), (105.56, 19.0), (105.575, 19.7), (105.59, 19.2), (105.605, 19.9),
 (105.62, 19.0), (105.635, 20.2), (105.65, 19.1), (105.665, 19.8), (105.68, 19.3), (105.695, 20.0), (105.71, 19.2), (105.725, 19.7),
 (105.74, 19.0), (105.755, 19.9), (105.77, 19.2), (105.785, 19.6), (105.80, 19.1), (105.815, 19.8), (105.83, 19.3), (105.845, 19.7),
 (105.86, 19.2), (105.875, 19.9), (105.89, 19.3), (105.95, None),
 (106.00, 19.4), (106.015, 20.3), (106.03, 19.5), (106.045, 20.1), (106.06, 19.3), (106.075, 20.4), (106.09, 19.6), (106.105, 20.0),
 (106.12, 19.4), (106.135, 20.2), (106.15, 19.5), (106.165, 19.9), (106.18, 19.3), (106.195, 20.3), (106.21, 19.6), (106.225, 20.1),
 (106.24, 19.4), (106.255, 20.0), (106.27, 19.5), (106.285, 20.2), (106.30, 19.3), (106.315, 19.9), (106.33, 19.4), (106.36, None),
 (106.40, 19.5), (106.415, 20.0), (106.43, 19.4), (106.445, 20.2), (106.46, 19.6), (106.475, 19.9), (106.49, 19.5), (106.505, 20.1),
 (106.52, 19.4), (106.535, 19.8), (106.55, 19.6), (106.565, 20.2), (106.58, 19.5), (106.595, 19.9), (106.61, 19.4), (106.625, 20.1),
 (106.64, 19.6), (106.655, 19.9), (106.67, 19.5), (106.685, 20.2), (106.70, 19.6), (106.715, 20.0), (106.73, 19.5), (106.745, 20.1),
 (106.76, 19.7), (106.775, 19.9), (106.79, 19.5), (106.805, 20.2), (106.82, 19.6), (106.835, 20.0), (106.85, 19.7), (106.865, 20.3),
 (106.88, 19.5), (106.895, 20.0), (106.91, 19.7), (106.925, 20.2), (106.94, 19.6), (106.955, 20.0), (106.97, 19.8), (106.985, 20.1),
 (107.0, 19.7), (107.02, 20.0), (107.045, None),
 (107.07, 19.8), (107.085, 20.6), (107.10, 19.9), (107.115, 20.5), (107.13, 19.8), (107.145, 20.7), (107.16, 20.0), (107.175, 20.4),
 (107.19, 19.9), (107.205, 20.8), (107.22, 20.0), (107.235, 20.5), (107.25, 19.9), (107.265, 20.6), (107.28, 20.1), (107.295, 20.4),
 (107.31, 19.9), (107.325, 20.7), (107.34, 20.1), (107.355, 20.5), (107.37, 20.0), (107.385, 20.8), (107.40, 20.1), (107.415, 20.6),
 (107.43, 20.0), (107.445, 20.7), (107.46, 20.2), (107.475, 20.5), (107.49, 20.0), (107.505, 20.8), (107.52, 20.2), (107.535, 20.6),
 (107.55, 20.1), (107.565, 20.9), (107.58, 20.3), (107.595, 20.6), (107.61, 19.8), (107.625, 21.3), (107.64, 20.0), (107.655, 20.8),
 (107.67, 20.2), (107.72, None),
 (107.76, 20.3), (107.775, 21.0), (107.79, 20.1), (107.805, 21.2), (107.82, 20.4), (107.835, 21.0), (107.85, 20.3), (107.865, 21.1),
 (107.88, 20.5), (107.895, 20.9), (107.91, 20.3), (107.925, 21.2), (107.94, 20.5), (107.955, 21.0), (107.97, 20.4), (107.985, 21.1),
 (108.0, 20.5), (108.015, 21.0), (108.03, 20.4), (108.045, 21.2), (108.06, 20.6), (108.075, 21.0), (108.09, 20.5), (108.105, 21.3),
 (108.12, 20.6), (108.135, 21.1), (108.15, 20.5), (108.165, 21.2), (108.18, 20.7), (108.195, 21.0), (108.21, 20.6), (108.225, 21.3),
 (108.24, 20.7), (108.255, 21.1), (108.27, 20.6), (108.285, 21.2), (108.30, 20.8), (108.315, 21.0), (108.33, 20.7), (108.345, 21.3),
 (108.36, 20.8), (108.375, 21.1), (108.39, 20.7), (108.405, 21.4), (108.42, 20.9), (108.435, 21.2), (108.45, 20.8), (108.47, 21.3),
 (108.6, None),
 (108.71, 20.9), (108.725, 21.6), (108.74, 21.0), (108.755, 21.7), (108.77, 21.1), (108.785, 21.5), (108.80, 20.9), (108.815, 21.7),
 (108.83, 21.1), (108.845, 21.6), (108.86, 21.2),
]

tick_years = [95, 96, 97, 98, 99, 100, 101, 102, 103, 104, 105, 106, 107, 108, 109]
tick_text = ["95", "96", "97", "98", "99", "00", "01", "02", "03", "04", "05", "06", "07", "08", "09"]
y_ticks = [0, 10, 20, 30, 40, 50]

series = [
    ("Jungfraujoch (CH)", jfj, "#0000FF", 5.5),
    ("Mace Head (IRE)", mace, "#FF6600", 5.5),
    ("Ny-Alesund (N)", nyal, "#000000", 7),
]

FONT = "Liberation Sans, Arial, sans-serif"

fig = go.Figure()
for name, pts, color, w in series:
    fig.add_trace(go.Scatter(
        x=[p[0] for p in pts], y=[p[1] for p in pts], mode="lines", name=name,
        line=dict(color=color, width=w), connectgaps=False, hoverinfo="skip",
    ))

fig.update_layout(
    width=1877, height=864,
    margin=dict(l=134, r=571, t=24, b=77),
    paper_bgcolor="white", plot_bgcolor="white",
    font=dict(family=FONT, size=39, color="black"),
    showlegend=True,
    legend=dict(
        x=1.034, xanchor="left", y=0.567, yanchor="top",
        font=dict(size=53, family=FONT, color="black"),
        bordercolor="#555555", borderwidth=2, bgcolor="white",
        itemwidth=72, tracegroupgap=0,
    ),
)
fig.update_xaxes(
    range=[95, 109], tickvals=tick_years, ticktext=tick_text,
    showgrid=False, zeroline=False,
    showline=True, linecolor="black", linewidth=1.5, mirror=True,
    ticks="outside", ticklen=13, tickcolor="#333333", tickwidth=1.5,
    tickfont=dict(size=39, family=FONT), ticklabelstandoff=14,
)
fig.update_yaxes(
    range=[0, 50], tickvals=y_ticks,
    showgrid=True, gridcolor="black", gridwidth=1, zeroline=False,
    showline=True, linecolor="black", linewidth=1.5, mirror=True,
    ticks="outside", ticklen=12, tickcolor="#333333", tickwidth=1.5,
    tickfont=dict(size=39, family=FONT),
    title=dict(text="<b>ppt</b>", font=dict(size=38, family=FONT), standoff=14),
)

fig.write_html("out.html")
